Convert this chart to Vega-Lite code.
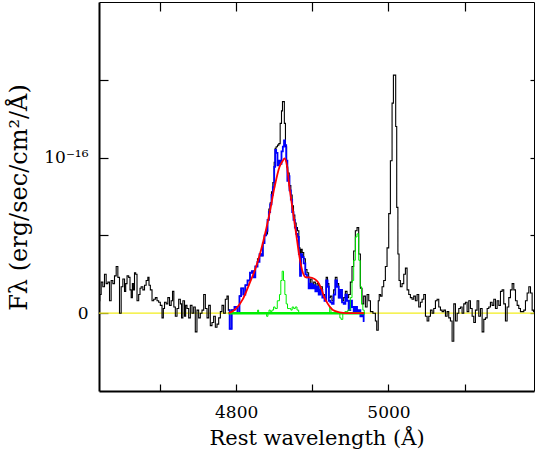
{
  "$schema": "https://vega.github.io/schema/vega-lite/v6.json",
  "width": 435,
  "height": 389,
  "autosize": {"type": "none"},
  "padding": {"left": 99, "top": 2, "right": 1, "bottom": 69},
  "background": "white",
  "config": {"view": {"stroke": null}},
  "data": {"values": [
    {"s":"k","w":4620,"f":0.08},{"s":"k","w":4622,"f":0.12},{"s":"k","w":4623.7,"f":0.2},{"s":"k","w":4626.3,"f":0.17},{"s":"k","w":4628.1,"f":0.25},{"s":"k","w":4630.7,"f":0.19},{"s":"k","w":4632.5,"f":0.2},{"s":"k","w":4635.1,"f":0.08},{"s":"k","w":4636.8,"f":0.21},{"s":"k","w":4639.5,"f":0.19},{"s":"k","w":4641.2,"f":0.24},{"s":"k","w":4643.9,"f":0.3},{"s":"k","w":4645.6,"f":0.23},{"s":"k","w":4648.2,"f":0.0},{"s":"k","w":4650,"f":0.17},{"s":"k","w":4652.6,"f":0.22},{"s":"k","w":4654.4,"f":0.14},{"s":"k","w":4655.7,"f":0.19},{"s":"k","w":4657.9,"f":0.24},{"s":"k","w":4660,"f":0.23},{"s":"k","w":4661.4,"f":0.15},{"s":"k","w":4663.1,"f":0.1},{"s":"k","w":4664.5,"f":0.19},{"s":"k","w":4665.7,"f":0.15},{"s":"k","w":4667.5,"f":0.26},{"s":"k","w":4668.8,"f":0.25},{"s":"k","w":4671,"f":0.08},{"s":"k","w":4673.2,"f":0.12},{"s":"k","w":4674.5,"f":0.16},{"s":"k","w":4676.2,"f":0.17},{"s":"k","w":4678.9,"f":0.15},{"s":"k","w":4680.6,"f":0.18},{"s":"k","w":4683.2,"f":0.21},{"s":"k","w":4685,"f":0.23},{"s":"k","w":4686.3,"f":0.18},{"s":"k","w":4688.5,"f":0.15},{"s":"k","w":4690.7,"f":0.08},{"s":"k","w":4692.9,"f":0.09},{"s":"k","w":4695.1,"f":0.1},{"s":"k","w":4697.2,"f":0.08},{"s":"k","w":4699.4,"f":0.07},{"s":"k","w":4701.6,"f":0.05},{"s":"k","w":4703.8,"f":-0.03},{"s":"k","w":4705.1,"f":0.03},{"s":"k","w":4706.9,"f":0.07},{"s":"k","w":4709.5,"f":0.06},{"s":"k","w":4711.2,"f":0.1},{"s":"k","w":4713.9,"f":0.05},{"s":"k","w":4715.6,"f":0.08},{"s":"k","w":4717.4,"f":0.14},{"s":"k","w":4719.1,"f":0.04},{"s":"k","w":4721.3,"f":-0.02},{"s":"k","w":4723.5,"f":0.03},{"s":"k","w":4725.7,"f":0.09},{"s":"k","w":4727.9,"f":0.06},{"s":"k","w":4728.8,"f":-0.03},{"s":"k","w":4731.4,"f":0.08},{"s":"k","w":4733.1,"f":-0.02},{"s":"k","w":4734.4,"f":0.05},{"s":"k","w":4736.6,"f":0.03},{"s":"k","w":4738.8,"f":-0.03},{"s":"k","w":4741,"f":0.05},{"s":"k","w":4743.2,"f":0.0},{"s":"k","w":4745.3,"f":0.04},{"s":"k","w":4747.5,"f":-0.12},{"s":"k","w":4749.7,"f":0.02},{"s":"k","w":4751.9,"f":-0.03},{"s":"k","w":4754.1,"f":0.0},{"s":"k","w":4756.3,"f":0.02},{"s":"k","w":4758.5,"f":0.12},{"s":"k","w":4760.7,"f":0.03},{"s":"k","w":4762.9,"f":-0.03},{"s":"k","w":4765,"f":0.05},{"s":"k","w":4767.2,"f":-0.08},{"s":"k","w":4769.4,"f":-0.06},{"s":"k","w":4771.6,"f":-0.02},{"s":"k","w":4773.8,"f":-0.09},{"s":"k","w":4776,"f":-0.07},{"s":"k","w":4778.2,"f":-0.03},{"s":"k","w":4780.4,"f":0.01},{"s":"k","w":4782.5,"f":0.05},{"s":"k","w":4784.7,"f":0.0},{"s":"k","w":4786.9,"f":0.09},{"s":"k","w":4789.1,"f":0.11},
    {"s":"k","w":4790.4,"f":0.02},{"s":"k","w":4792.6,"f":-0.1},{"s":"k","w":4795.7,"f":0.02},{"s":"k","w":4800,"f":0.04},{"s":"k","w":4803.5,"f":0.0},{"s":"k","w":4805.3,"f":0.11},{"s":"k","w":4807.9,"f":0.16},{"s":"k","w":4811,"f":0.12},{"s":"k","w":4813.2,"f":0.18},{"s":"k","w":4816.7,"f":0.21},{"s":"k","w":4819.7,"f":0.26},{"s":"k","w":4821.9,"f":0.27},{"s":"k","w":4824.1,"f":0.23},{"s":"k","w":4826.3,"f":0.3},{"s":"k","w":4829.8,"f":0.35},{"s":"k","w":4831.6,"f":0.38},{"s":"k","w":4834.2,"f":0.37},{"s":"k","w":4835.9,"f":0.45},{"s":"k","w":4838.6,"f":0.5},{"s":"k","w":4840.3,"f":0.51},{"s":"k","w":4842.1,"f":0.6},{"s":"k","w":4843.8,"f":0.67},{"s":"k","w":4845.6,"f":0.71},{"s":"k","w":4847.3,"f":0.78},{"s":"k","w":4849.1,"f":0.84},{"s":"k","w":4850.8,"f":0.97},{"s":"k","w":4851.7,"f":1.06},{"s":"k","w":4853.4,"f":1.07},{"s":"k","w":4855.2,"f":1.08},{"s":"k","w":4856.9,"f":1.09},{"s":"k","w":4858.7,"f":1.22},{"s":"k","w":4860.4,"f":1.3},{"s":"k","w":4861.3,"f":1.36},{"s":"k","w":4862.6,"f":1.36},{"s":"k","w":4864,"f":1.22},{"s":"k","w":4865.5,"f":1.07},{"s":"k","w":4867,"f":0.94},{"s":"k","w":4868.5,"f":0.9},{"s":"k","w":4870.9,"f":0.82},{"s":"k","w":4872.7,"f":0.76},{"s":"k","w":4874.4,"f":0.69},{"s":"k","w":4876.2,"f":0.63},{"s":"k","w":4877.9,"f":0.58},{"s":"k","w":4879.7,"f":0.55},{"s":"k","w":4881.4,"f":0.53},{"s":"k","w":4883.2,"f":0.42},{"s":"k","w":4884.5,"f":0.28},{"s":"k","w":4885.8,"f":0.41},{"s":"k","w":4887.6,"f":0.39},{"s":"k","w":4889.8,"f":0.35},{"s":"k","w":4891.9,"f":0.28},{"s":"k","w":4894.1,"f":0.26},{"s":"k","w":4896.3,"f":0.19},{"s":"k","w":4898.5,"f":0.22},{"s":"k","w":4900.7,"f":0.18},{"s":"k","w":4902.9,"f":0.2},{"s":"k","w":4905.1,"f":0.16},{"s":"k","w":4907.3,"f":0.19},{"s":"k","w":4909.4,"f":0.14},{"s":"k","w":4911.6,"f":0.17},{"s":"k","w":4914.7,"f":0.12},{"s":"k","w":4917.3,"f":0.1},{"s":"k","w":4919.1,"f":0.23},{"s":"k","w":4920.8,"f":0.19},{"s":"k","w":4922.6,"f":0.1},{"s":"k","w":4924.8,"f":0.11},{"s":"k","w":4926.9,"f":0.08},{"s":"k","w":4929.1,"f":0.15},{"s":"k","w":4931.3,"f":0.23},{"s":"k","w":4933.5,"f":0.19},{"s":"k","w":4935.7,"f":0.1},{"s":"k","w":4937.9,"f":0.15},{"s":"k","w":4940.1,"f":0.08},{"s":"k","w":4942.3,"f":0.1},{"s":"k","w":4944.5,"f":0.14},{"s":"k","w":4946.6,"f":0.1},{"s":"k","w":4948.8,"f":0.12},{"s":"k","w":4951,"f":0.2},{"s":"k","w":4953.2,"f":0.3},{"s":"k","w":4955.4,"f":0.4},{"s":"k","w":4957.6,"f":0.53},{"s":"k","w":4959.8,"f":0.55},{"s":"k","w":4962,"f":0.38},{"s":"k","w":4964.2,"f":0.16},{"s":"k","w":4966.3,"f":0.06},{"s":"k","w":4968.6,"f":0.11},
    {"s":"k","w":4970.8,"f":0.04},{"s":"k","w":4973,"f":0.12},{"s":"k","w":4975.2,"f":0.08},{"s":"k","w":4977.4,"f":0.01},{"s":"k","w":4981.7,"f":0.0},{"s":"k","w":4983.9,"f":-0.05},{"s":"k","w":4985.2,"f":-0.11},{"s":"k","w":4986.1,"f":-0.11},{"s":"k","w":4987,"f":0.08},{"s":"k","w":4988.7,"f":0.12},{"s":"k","w":4990.5,"f":0.11},{"s":"k","w":4992.6,"f":0.17},{"s":"k","w":4994.8,"f":0.21},{"s":"k","w":4997,"f":0.3},{"s":"k","w":4999.2,"f":0.42},{"s":"k","w":5001.4,"f":0.64},{"s":"k","w":5003.6,"f":0.98},{"s":"k","w":5005.8,"f":1.35},{"s":"k","w":5007.1,"f":1.53},{"s":"k","w":5008.8,"f":1.53},{"s":"k","w":5010.1,"f":1.2},{"s":"k","w":5011.5,"f":0.68},{"s":"k","w":5013.2,"f":0.38},{"s":"k","w":5014.5,"f":0.21},{"s":"k","w":5016.7,"f":0.17},{"s":"k","w":5018.9,"f":0.19},{"s":"k","w":5021.1,"f":0.25},{"s":"k","w":5023.3,"f":0.29},{"s":"k","w":5025.5,"f":0.15},{"s":"k","w":5027.7,"f":0.12},{"s":"k","w":5029.8,"f":0.1},{"s":"k","w":5032,"f":0.09},{"s":"k","w":5034.2,"f":0.11},{"s":"k","w":5036.4,"f":0.08},{"s":"k","w":5038.6,"f":0.12},{"s":"k","w":5040.8,"f":0.04},{"s":"k","w":5043,"f":0.07},{"s":"k","w":5045.2,"f":0.09},{"s":"k","w":5047.4,"f":0.12},{"s":"k","w":5049.6,"f":-0.02},{"s":"k","w":5051.8,"f":-0.05},{"s":"k","w":5054,"f":-0.02},{"s":"k","w":5056.2,"f":0.02},{"s":"k","w":5058.3,"f":0.0},{"s":"k","w":5060.5,"f":0.03},{"s":"k","w":5062.7,"f":0.08},{"s":"k","w":5064.9,"f":0.09},{"s":"k","w":5067.1,"f":0.04},{"s":"k","w":5069.3,"f":0.02},{"s":"k","w":5071.5,"f":0.01},{"s":"k","w":5073.7,"f":0.02},{"s":"k","w":5075.8,"f":-0.02},{"s":"k","w":5078,"f":0.01},{"s":"k","w":5080.2,"f":-0.03},{"s":"k","w":5082.4,"f":-0.05},{"s":"k","w":5084.6,"f":-0.18},{"s":"k","w":5086.8,"f":0.06},{"s":"k","w":5089,"f":-0.05},{"s":"k","w":5091.2,"f":0.0},{"s":"k","w":5093.4,"f":0.03},{"s":"k","w":5095.5,"f":0.04},{"s":"k","w":5097.7,"f":0.0},{"s":"k","w":5099.9,"f":0.06},{"s":"k","w":5102.1,"f":0.07},{"s":"k","w":5104.3,"f":0.01},{"s":"k","w":5106.5,"f":0.08},{"s":"k","w":5108.7,"f":0.03},{"s":"k","w":5110.9,"f":-0.02},{"s":"k","w":5113,"f":-0.06},{"s":"k","w":5115.2,"f":0.02},{"s":"k","w":5117.4,"f":0.08},{"s":"k","w":5119.6,"f":-0.02},{"s":"k","w":5121.8,"f":0.03},{"s":"k","w":5124,"f":-0.12},{"s":"k","w":5126.2,"f":-0.04},{"s":"k","w":5128.4,"f":-0.03},{"s":"k","w":5130.6,"f":0.03},{"s":"k","w":5132.7,"f":0.04},{"s":"k","w":5134.9,"f":0.07},{"s":"k","w":5137.1,"f":0.05},{"s":"k","w":5139.3,"f":0.09},{"s":"k","w":5141.5,"f":0.03},{"s":"k","w":5143.7,"f":0.08},{"s":"k","w":5145.9,"f":0.05},{"s":"k","w":5148.1,"f":0.14},{"s":"k","w":5150.2,"f":0.15},{"s":"k","w":5152.4,"f":0.06},{"s":"k","w":5154.6,"f":-0.05},{"s":"k","w":5156.8,"f":0.04},{"s":"k","w":5159,"f":0.1},{"s":"k","w":5161.2,"f":0.15},{"s":"k","w":5163.4,"f":0.19},{"s":"k","w":5165.6,"f":0.15},{"s":"k","w":5167.8,"f":0.08},{"s":"k","w":5170,"f":0.05},{"s":"k","w":5172.1,"f":0.03},{"s":"k","w":5174.3,"f":0.01},{"s":"k","w":5176.5,"f":0.01},{"s":"k","w":5178.7,"f":0.02},{"s":"k","w":5180.9,"f":0.08},{"s":"k","w":5183.1,"f":0.13},{"s":"k","w":5185.3,"f":0.17},{"s":"k","w":5187.5,"f":0.13},{"s":"k","w":5189.6,"f":0.02},{"s":"k","w":5191,"f":0.01},
    {"s":"b","w":4790.4,"f":0.02},{"s":"b","w":4792.6,"f":-0.1},{"s":"b","w":4795.7,"f":0.02},{"s":"b","w":4800,"f":0.04},{"s":"b","w":4803.5,"f":0.0},{"s":"b","w":4805.3,"f":0.11},{"s":"b","w":4807.9,"f":0.16},{"s":"b","w":4811,"f":0.12},{"s":"b","w":4813.2,"f":0.18},{"s":"b","w":4816.7,"f":0.21},{"s":"b","w":4819.7,"f":0.26},{"s":"b","w":4821.9,"f":0.27},{"s":"b","w":4824.1,"f":0.23},{"s":"b","w":4826.3,"f":0.3},{"s":"b","w":4829.8,"f":0.33},{"s":"b","w":4831.6,"f":0.38},{"s":"b","w":4834.2,"f":0.37},{"s":"b","w":4835.9,"f":0.45},{"s":"b","w":4838.6,"f":0.5},{"s":"b","w":4840.3,"f":0.53},{"s":"b","w":4842.1,"f":0.6},{"s":"b","w":4843.8,"f":0.65},{"s":"b","w":4845.6,"f":0.7},{"s":"b","w":4847.3,"f":0.76},{"s":"b","w":4849.1,"f":0.81},{"s":"b","w":4850.8,"f":0.94},{"s":"b","w":4851.7,"f":1.05},{"s":"b","w":4853.4,"f":1.03},{"s":"b","w":4855.2,"f":0.95},{"s":"b","w":4856.9,"f":0.98},{"s":"b","w":4858.7,"f":0.96},{"s":"b","w":4860.4,"f":1.04},{"s":"b","w":4862.2,"f":1.07},{"s":"b","w":4863.5,"f":1.11},{"s":"b","w":4864.8,"f":1.08},{"s":"b","w":4866.6,"f":0.98},{"s":"b","w":4867.9,"f":0.85},{"s":"b","w":4869.2,"f":0.88},{"s":"b","w":4870.9,"f":0.79},{"s":"b","w":4872.7,"f":0.73},{"s":"b","w":4874.4,"f":0.65},{"s":"b","w":4876.2,"f":0.6},{"s":"b","w":4877.9,"f":0.55},{"s":"b","w":4879.7,"f":0.51},{"s":"b","w":4881.4,"f":0.49},{"s":"b","w":4883.2,"f":0.38},{"s":"b","w":4884.5,"f":0.24},{"s":"b","w":4885.8,"f":0.38},{"s":"b","w":4887.6,"f":0.36},{"s":"b","w":4889.8,"f":0.32},{"s":"b","w":4891.9,"f":0.25},{"s":"b","w":4894.1,"f":0.23},{"s":"b","w":4896.3,"f":0.16},{"s":"b","w":4898.5,"f":0.19},{"s":"b","w":4900.7,"f":0.16},{"s":"b","w":4902.9,"f":0.18},{"s":"b","w":4905.1,"f":0.14},{"s":"b","w":4907.3,"f":0.17},{"s":"b","w":4909.4,"f":0.12},{"s":"b","w":4911.6,"f":0.15},{"s":"b","w":4914.7,"f":0.1},{"s":"b","w":4917.3,"f":0.08},{"s":"b","w":4919.1,"f":0.21},{"s":"b","w":4920.8,"f":0.17},{"s":"b","w":4922.6,"f":0.08},{"s":"b","w":4924.8,"f":0.07},{"s":"b","w":4926.9,"f":0.06},{"s":"b","w":4929.1,"f":0.12},{"s":"b","w":4931.3,"f":0.21},{"s":"b","w":4933.5,"f":0.17},{"s":"b","w":4935.7,"f":0.1},{"s":"b","w":4937.9,"f":0.15},{"s":"b","w":4940.1,"f":0.07},{"s":"b","w":4942.3,"f":0.06},{"s":"b","w":4944.5,"f":0.12},{"s":"b","w":4946.6,"f":0.08},{"s":"b","w":4948.8,"f":0.02},{"s":"b","w":4951,"f":0.08},{"s":"b","w":4953.2,"f":0.04},{"s":"b","w":4955.4,"f":0.0},{"s":"b","w":4957.6,"f":0.04},{"s":"b","w":4959.8,"f":0.0},{"s":"b","w":4962,"f":0.02},{"s":"b","w":4964.2,"f":-0.02},{"s":"b","w":4966.3,"f":0.0},{"s":"b","w":4968.5,"f":-0.05},
    {"s":"g","w":4790.4,"f":0},{"s":"g","w":4828,"f":0},{"s":"g","w":4828.5,"f":0.02},{"s":"g","w":4830.5,"f":0},{"s":"g","w":4839,"f":0},{"s":"g","w":4841,"f":-0.02},{"s":"g","w":4842.5,"f":0},{"s":"g","w":4843.8,"f":0.02},{"s":"g","w":4846,"f":0.01},{"s":"g","w":4848,"f":0.02},{"s":"g","w":4850.3,"f":0.04},{"s":"g","w":4852,"f":0.03},{"s":"g","w":4856,"f":0.08},{"s":"g","w":4857.8,"f":0.12},{"s":"g","w":4859.5,"f":0.21},{"s":"g","w":4861.3,"f":0.27},{"s":"g","w":4863.1,"f":0.21},{"s":"g","w":4864.8,"f":0.12},{"s":"g","w":4866.6,"f":0.06},{"s":"g","w":4868.3,"f":0.03},{"s":"g","w":4871,"f":0.03},{"s":"g","w":4872.7,"f":0.02},{"s":"g","w":4874.4,"f":0.04},{"s":"g","w":4876.6,"f":0.03},{"s":"g","w":4878.8,"f":0.04},{"s":"g","w":4881,"f":0.02},{"s":"g","w":4883.2,"f":0},{"s":"g","w":4922.6,"f":0},{"s":"g","w":4923,"f":0.04},{"s":"g","w":4926,"f":0},{"s":"g","w":4935.7,"f":0},{"s":"g","w":4936.6,"f":-0.03},{"s":"g","w":4939,"f":-0.04},{"s":"g","w":4941,"f":0},{"s":"g","w":4944.5,"f":0.01},{"s":"g","w":4948.8,"f":0.02},{"s":"g","w":4951,"f":0.1},{"s":"g","w":4953.2,"f":0.21},{"s":"g","w":4955.4,"f":0.34},{"s":"g","w":4957.6,"f":0.49},{"s":"g","w":4959.8,"f":0.51},{"s":"g","w":4962,"f":0.34},{"s":"g","w":4963.7,"f":0.17},{"s":"g","w":4965.5,"f":0.06},{"s":"g","w":4967.2,"f":0.02},{"s":"g","w":4969,"f":0},
    {"s":"gb","w":4790,"f":0},{"s":"gb","w":4969,"f":0},
    {"s":"y","w":4620,"f":0},{"s":"y","w":5191,"f":0},
    {"s":"r","w":4790.4,"f":0.0},{"s":"r","w":4800,"f":0.03},{"s":"r","w":4808.8,"f":0.09},{"s":"r","w":4817.5,"f":0.19},{"s":"r","w":4826.3,"f":0.3},{"s":"r","w":4835,"f":0.45},{"s":"r","w":4843.8,"f":0.64},{"s":"r","w":4850.4,"f":0.81},{"s":"r","w":4856.9,"f":0.94},{"s":"r","w":4861.3,"f":0.98},{"s":"r","w":4863.5,"f":0.995},{"s":"r","w":4866.6,"f":0.95},{"s":"r","w":4870,"f":0.81},{"s":"r","w":4874.4,"f":0.66},{"s":"r","w":4878.8,"f":0.51},{"s":"r","w":4883.2,"f":0.36},{"s":"r","w":4887.6,"f":0.26},{"s":"r","w":4891.9,"f":0.23},{"s":"r","w":4896.3,"f":0.23},{"s":"r","w":4902.9,"f":0.22},{"s":"r","w":4907.3,"f":0.2},{"s":"r","w":4911.6,"f":0.16},{"s":"r","w":4916,"f":0.1},{"s":"r","w":4920.4,"f":0.06},{"s":"r","w":4927,"f":0.02},{"s":"r","w":4935.7,"f":0.005},{"s":"r","w":4945,"f":0},{"s":"r","w":4968,"f":0}
  ]},
  "resolve": {"axis": {"x": "independent", "y": "independent"}},
  "layer": [
    {
      "transform": [{"filter": "datum.s == 'y'"}],
      "mark": {"type": "line", "color": "#f2ee1c", "strokeWidth": 1.2, "clip": true},
      "encoding": {
        "x": {"field": "w", "type": "quantitative", "scale": {"domain": [4620, 5191], "nice": false, "zero": false},
          "axis": {"orient": "top", "values": [4700, 4800, 4900, 5000, 5100], "labels": false, "title": null, "grid": false, "ticks": true, "tickSize": -9, "domainColor": "black", "domainWidth": 1, "tickColor": "black", "tickWidth": 1.2}},
        "y": {"field": "f", "type": "quantitative", "scale": {"domain": [-0.5, 2.0], "nice": false, "zero": false},
          "axis": {"orient": "right", "values": [0, 0.5, 1, 1.5], "labels": false, "title": null, "grid": false, "ticks": true, "tickSize": -4, "domainColor": "black", "domainWidth": 1, "tickColor": "black", "tickWidth": 1.2}}
      }
    },
    {
      "transform": [{"filter": "datum.s == 'k'"}],
      "mark": {"type": "line", "color": "black", "strokeWidth": 1.1, "interpolate": "step", "clip": true},
      "encoding": {
        "x": {"field": "w", "type": "quantitative",
          "axis": {"orient": "bottom", "values": [4700, 4800, 4900, 5000, 5100], "labelExpr": "datum.value % 200 == 0 ? format(datum.value, 'd') : ''", "title": "Rest wavelength (Å)", "grid": false, "ticks": true, "tickSize": -7, "labelPadding": 20, "labelFont": "DejaVu Serif", "labelFontSize": 17, "labelColor": "black", "labelFlush": false, "labelOverlap": false, "titleFont": "DejaVu Serif", "titleFontSize": 21, "titleFontWeight": "normal", "titleColor": "black", "titlePadding": 7, "domainColor": "black", "domainWidth": 2, "tickColor": "black", "tickWidth": 1.2}},
        "y": {"field": "f", "type": "quantitative",
          "axis": {"orient": "left", "values": [0, 0.5, 1, 1.5], "labelExpr": "datum.value == 0 ? '0' : (datum.value == 1 ? '10⁻¹⁶' : '')", "title": "Fλ (erg/sec/cm²/Å)", "grid": false, "ticks": true, "tickSize": -9, "labelPadding": 20, "labelFont": "DejaVu Serif", "labelFontSize": 17, "labelColor": "black", "labelFlush": false, "labelOverlap": false, "titleFont": "DejaVu Serif", "titleFontSize": 24, "titleFontWeight": "normal", "titleColor": "black", "titleX": -80, "titleY": 195, "titleAngle": -90, "titleAlign": "center", "titleBaseline": "middle", "domainColor": "black", "domainWidth": 2, "tickColor": "black", "tickWidth": 1.2}}
      }
    },
    {
      "transform": [{"filter": "datum.s == 'b'"}],
      "mark": {"type": "line", "color": "#0000ff", "strokeWidth": 1.8, "interpolate": "step", "clip": true},
      "encoding": {"x": {"field": "w", "type": "quantitative", "axis": null}, "y": {"field": "f", "type": "quantitative", "axis": null}}
    },
    {
      "transform": [{"filter": "datum.s == 'gb'"}],
      "mark": {"type": "line", "color": "#00ee00", "strokeWidth": 2.5, "clip": true},
      "encoding": {"x": {"field": "w", "type": "quantitative", "axis": null}, "y": {"field": "f", "type": "quantitative", "axis": null}}
    },
    {
      "transform": [{"filter": "datum.s == 'g'"}],
      "mark": {"type": "line", "color": "#00ee00", "strokeWidth": 1, "interpolate": "step", "clip": true},
      "encoding": {"x": {"field": "w", "type": "quantitative", "axis": null}, "y": {"field": "f", "type": "quantitative", "axis": null}}
    },
    {
      "transform": [{"filter": "datum.s == 'r'"}],
      "mark": {"type": "line", "color": "#ff0000", "strokeWidth": 1.8, "interpolate": "monotone", "clip": true},
      "encoding": {"x": {"field": "w", "type": "quantitative", "axis": null}, "y": {"field": "f", "type": "quantitative", "axis": null}}
    }
  ]
}
